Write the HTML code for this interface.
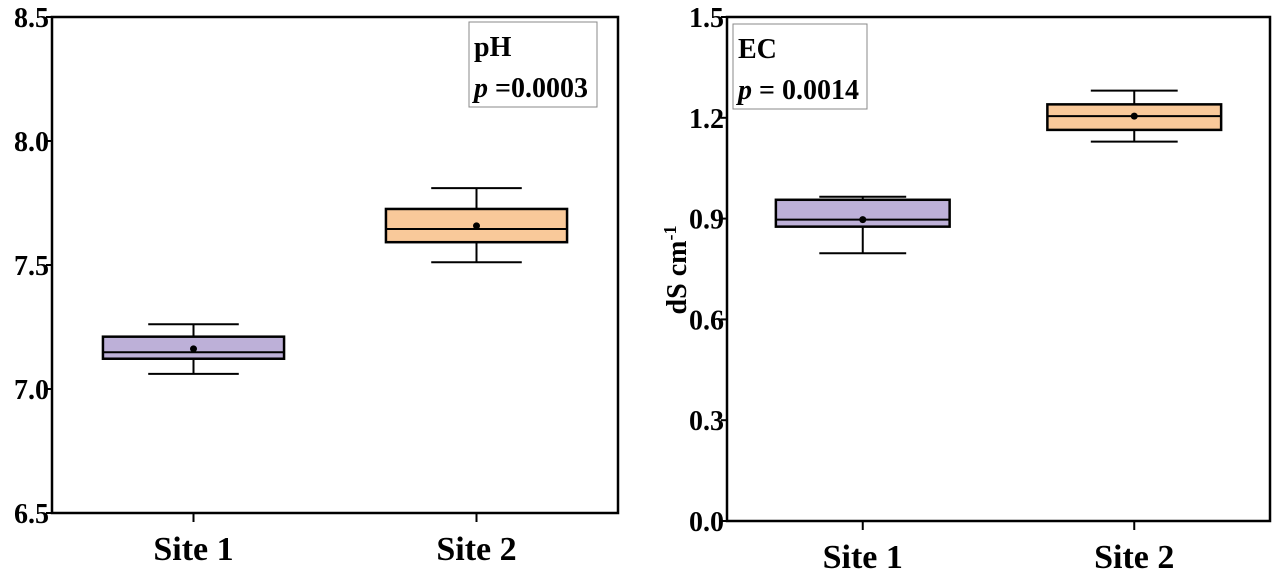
<!DOCTYPE html>
<html><head><meta charset="utf-8"><style>
html,body{margin:0;padding:0;background:#fff;width:1280px;height:570px;overflow:hidden}
svg text{font-family:"Liberation Serif",serif;font-weight:bold;fill:#000}
</style></head><body>
<svg id="chart" width="1280" height="570" xmlns="http://www.w3.org/2000/svg"></svg>
<script>
const categories = ["Site 1", "Site 2"];
const phWhiskerLow = [7.061, 7.511];
const phQ1 = [7.122, 7.592];
const phMedian = [7.148, 7.645];
const phMean = [7.162, 7.658];
const phQ3 = [7.211, 7.726];
const phWhiskerHigh = [7.261, 7.81];
const phTicks = ["6.5", "7.0", "7.5", "8.0", "8.5"];
const ecWhiskerLow = [0.797, 1.129];
const ecQ1 = [0.876, 1.164];
const ecMedian = [0.897, 1.205];
const ecMean = [0.897, 1.205];
const ecQ3 = [0.956, 1.24];
const ecWhiskerHigh = [0.965, 1.281];
const ecTicks = ["0.0", "0.3", "0.6", "0.9", "1.2", "1.5"];
const boxColors = ["#bdb0d8", "#f9c99a"];

const NS = "http://www.w3.org/2000/svg";
const svg = document.getElementById("chart");
function mk(tag, attrs, parent) {
  const e = document.createElementNS(NS, tag);
  for (const k in attrs) e.setAttribute(k, attrs[k]);
  (parent || svg).appendChild(e);
  return e;
}

function panel(cfg) {
  const g = mk("g", {});
  
  
  const {x0, x1, y0, y1, ymin, ymax} = cfg;
  const ys = v => y1 - (v - ymin) / (ymax - ymin) * (y1 - y0);
  const xs = i => x0 + (x1 - x0) * (0.25 + 0.5 * i);
  const bw = (x1 - x0) * 0.32, cw = (x1 - x0) * 0.16;
  const fr = mk("rect", {x: x0, y: y0, width: x1 - x0, height: y1 - y0, fill: "none", stroke: "#000", "stroke-width": 2.5}, g);
  
  
  cfg.ticks.forEach(t => {
    const y = ys(parseFloat(t));
    mk("line", {x1: x0 - 6, x2: x0, y1: y, y2: y, stroke: "#000", "stroke-width": 2}, g);
    const tx = mk("text", {x: x0 - 3, y: y + 10, "text-anchor": "end", "font-size": 28}, g);
    tx.textContent = t;
    
    
  });
  categories.forEach((c, i) => {
    const x = xs(i);
    mk("line", {x1: x, x2: x, y1: y1, y2: y1 + 9, stroke: "#000", "stroke-width": 2}, g);
    const tx = mk("text", {x: x, y: y1 + 47, "text-anchor": "middle", "font-size": 34}, g);
    tx.textContent = c;
    
    
    const d = cfg.data;
    const bg = mk("g", {}, g);
    
    
    const s = {stroke: "#000", "stroke-width": 2};
    mk("line", Object.assign({x1: x, x2: x, y1: ys(d.hi[i]), y2: ys(d.q3[i])}, s), bg);
    mk("line", Object.assign({x1: x, x2: x, y1: ys(d.q1[i]), y2: ys(d.lo[i])}, s), bg);
    mk("line", Object.assign({x1: x - cw / 2, x2: x + cw / 2, y1: ys(d.hi[i]), y2: ys(d.hi[i])}, s), bg);
    mk("line", Object.assign({x1: x - cw / 2, x2: x + cw / 2, y1: ys(d.lo[i]), y2: ys(d.lo[i])}, s), bg);
    mk("rect", {x: x - bw / 2, y: ys(d.q3[i]), width: bw, height: ys(d.q1[i]) - ys(d.q3[i]), fill: boxColors[i], stroke: "#000", "stroke-width": 2.5}, bg);
    mk("line", Object.assign({x1: x - bw / 2, x2: x + bw / 2, y1: ys(d.med[i]), y2: ys(d.med[i])}, s), bg);
    mk("circle", {cx: x, cy: ys(d.mean[i]), r: 3.5, fill: "#000"}, bg);
  });
  const lg = mk("g", {}, g);
  
  
  mk("rect", {x: cfg.lx, y: cfg.ly, width: cfg.lw, height: 85, fill: "#fff", stroke: "#888", "stroke-width": 1}, lg);
  const t1 = mk("text", {x: cfg.lx + 5, y: cfg.ly + 34, "font-size": 28}, lg);
  t1.textContent = cfg.title;
  const t2 = mk("text", {x: cfg.lx + 5, y: cfg.ly + 75, "font-size": 28}, lg);
  const ip = mk("tspan", {"font-style": "italic"}, t2);
  ip.textContent = "p";
  const rest = mk("tspan", {}, t2);
  rest.textContent = cfg.ptext;
}

panel({name: "ph-panel", x0: 52, x1: 618, y0: 17, y1: 513, ymin: 6.5, ymax: 8.5, ticks: phTicks,
  data: {lo: phWhiskerLow, q1: phQ1, med: phMedian, mean: phMean, q3: phQ3, hi: phWhiskerHigh},
  lx: 469, ly: 22, lw: 128, title: "pH", ptext: " =0.0003"});
panel({name: "ec-panel", x0: 727, x1: 1270, y0: 17, y1: 521, ymin: 0, ymax: 1.5, ticks: ecTicks,
  data: {lo: ecWhiskerLow, q1: ecQ1, med: ecMedian, mean: ecMean, q3: ecQ3, hi: ecWhiskerHigh},
  lx: 733, ly: 24, lw: 134, title: "EC", ptext: " = 0.0014"});

const yl = mk("text", {x: 0, y: 0, "text-anchor": "middle", "font-size": 28, transform: "translate(686,270) rotate(-90)"});


yl.textContent = "dS cm";
const sup = mk("tspan", {dy: -10, "font-size": 18}, yl);
sup.textContent = "-1";
</script>
</body></html>
